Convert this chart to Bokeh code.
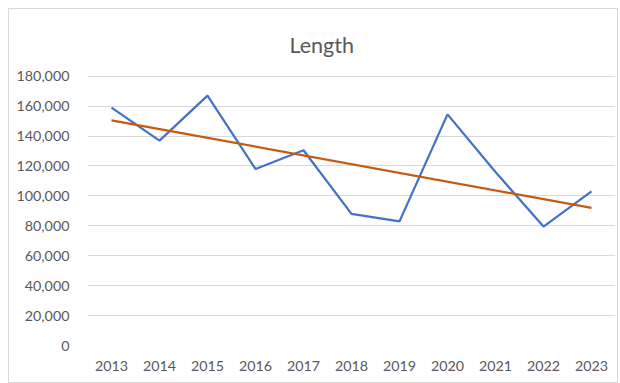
from bokeh.plotting import figure
from bokeh.models import Range1d, FactorRange, FixedTicker, NumeralTickFormatter
from bokeh.embed import file_html
from bokeh.resources import INLINE

years = ["2013", "2014", "2015", "2016", "2017", "2018", "2019", "2020", "2021", "2022", "2023"]
length = [159000, 137000, 167000, 118000, 130500, 88000, 83000, 154500, 116000, 79500, 103000]
trend_years = ["2013", "2023"]
trend_values = [150500, 92000]
y_ticks = [0, 20000, 40000, 60000, 80000, 100000, 120000, 140000, 160000, 180000]

FONT = "Lato"
GREY = "#595959"

p = figure(width=610, height=375, output_backend="svg", toolbar_location=None,
           x_range=FactorRange(*years, range_padding=0), y_range=Range1d(0, 180500),
           min_border_left=78, min_border_right=4, min_border_top=66, min_border_bottom=39,
           title="Length")
p.styles = {"margin-left": "8px", "margin-top": "8px", "border": "1px solid #d9d9d9"}

p.title.align = "left"
p.title.text_font = FONT
p.title.text_font_size = "21.5px"
p.title.text_font_style = "normal"
p.title.text_color = GREY
p.title.offset = 202
p.title.standoff = 36

p.outline_line_color = None
p.xgrid.grid_line_color = None
p.ygrid.grid_line_color = "#d9d9d9"
p.ygrid.grid_line_width = 1

for ax in (p.xaxis[0], p.yaxis[0]):
    ax.axis_line_color = None
    ax.major_tick_line_color = None
    ax.minor_tick_line_color = None
    ax.major_label_text_font = FONT
    ax.major_label_text_font_size = "14.3px"
    ax.major_label_text_color = GREY

p.yaxis[0].ticker = FixedTicker(ticks=y_ticks)
p.yaxis[0].formatter = NumeralTickFormatter(format="0,0")
p.yaxis[0].major_label_standoff = 12
p.xaxis[0].major_label_standoff = 9

p.line(years, length, line_color="#4472C4", line_width=2.25)
p.line(trend_years, trend_values, line_color="#C55A11", line_width=2.25)

open("out.html", "w").write(file_html(p, INLINE))
